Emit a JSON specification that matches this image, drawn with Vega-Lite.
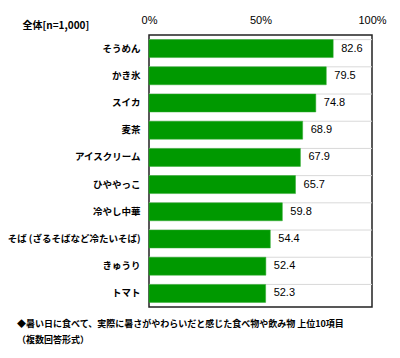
{
  "$schema": "https://vega.github.io/schema/vega-lite/v6.json",
  "width": 223,
  "height": 272,
  "autosize": "none",
  "padding": {"left": 149, "top": 35, "right": 28, "bottom": 51},
  "background": "white",
  "config": {
    "view": {"stroke": "#222", "strokeWidth": 1.5},
    "font": "Noto Sans CJK JP"
  },
  "title": {
    "text": ["◆暑い日に食べて、実際に暑さがやわらいだと感じた食べ物や飲み物 上位10項目", "（複数回答形式）"],
    "orient": "bottom",
    "anchor": "start",
    "frame": "group",
    "dx": -132,
    "offset": 13,
    "fontSize": 9,
    "fontWeight": "bold",
    "font": "Noto Sans CJK JP",
    "lineHeight": 16,
    "color": "#000"
  },
  "data": {
    "values": [
      {"item": "そうめん", "value": 82.6},
      {"item": "かき氷", "value": 79.5},
      {"item": "スイカ", "value": 74.8},
      {"item": "麦茶", "value": 68.9},
      {"item": "アイスクリーム", "value": 67.9},
      {"item": "ひややっこ", "value": 65.7},
      {"item": "冷やし中華", "value": 59.8},
      {"item": "そば (ざるそばなど冷たいそば)", "value": 54.4},
      {"item": "きゅうり", "value": 52.4},
      {"item": "トマト", "value": 52.3}
    ]
  },
  "encoding": {
    "y": {
      "field": "item",
      "type": "nominal",
      "sort": null,
      "scale": {"paddingInner": 0.34, "paddingOuter": 0.17},
      "axis": {
        "title": "全体[n=1,000]",
        "titleAngle": 0,
        "titleX": -127,
        "titleY": -10,
        "titleAlign": "left",
        "titleBaseline": "middle",
        "titleFontSize": 10,
        "titleFontWeight": "bold",
        "titleColor": "#000",
        "labelFontSize": 9.5,
        "labelFontWeight": "bold",
        "labelColor": "#000",
        "labelPadding": 9,
        "ticks": false,
        "domain": false,
        "grid": false,
        "labelLimit": 200
      }
    }
  },
  "layer": [
    {
      "mark": {"type": "rule", "color": "#d9d9d9", "strokeWidth": 1},
      "encoding": {
        "y": {"field": "item", "type": "nominal", "sort": null, "bandPosition": 0},
        "x": {"datum": 0},
        "x2": {"datum": 100}
      }
    },
    {
      "mark": {"type": "bar", "color": "#009900", "stroke": "#33aa33", "strokeWidth": 0.5},
      "encoding": {
        "x": {
          "field": "value",
          "type": "quantitative",
          "scale": {"domain": [0, 100], "nice": false},
          "axis": {
            "orient": "top",
            "values": [0, 50, 100],
            "labelExpr": "datum.value + '%'",
            "title": null,
            "grid": false,
            "ticks": false,
            "domain": false,
            "labelPadding": 10,
            "labelFontSize": 11,
            "labelFont": "Liberation Sans",
            "labelColor": "#000",
            "labelFlush": false
          }
        }
      }
    },
    {
      "mark": {"type": "text", "align": "left", "baseline": "middle", "dx": 8, "fontSize": 11, "font": "Liberation Sans", "color": "#000"},
      "encoding": {
        "x": {"field": "value", "type": "quantitative"},
        "text": {"field": "value", "type": "quantitative", "format": ".1f"}
      }
    }
  ]
}
